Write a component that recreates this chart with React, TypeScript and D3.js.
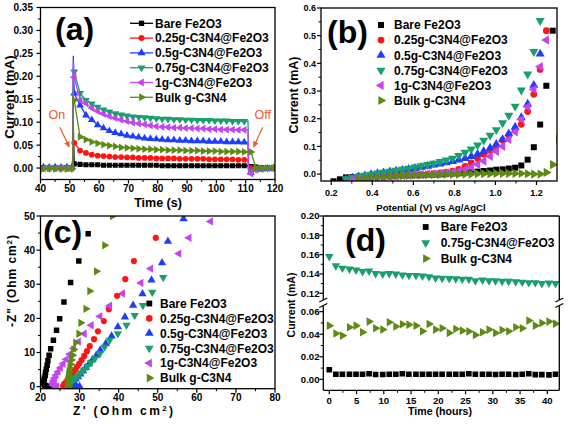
import React from "react";
import * as d3 from "d3";

const FONT = "'Liberation Sans', Arial, Helvetica, sans-serif";

type Shape = "square" | "circle" | "up" | "down" | "left" | "right";

const seriesNames = ["Bare Fe2O3", "0.25g-C3N4@Fe2O3", "0.5g-C3N4@Fe2O3", "0.75g-C3N4@Fe2O3", "1g-C3N4@Fe2O3", "Bulk g-C3N4"];
const seriesColors = ["#000000", "#ff1414", "#1f3dff", "#17a06c", "#c444f0", "#5c8a12"];
const seriesShapes: Shape[] = ["square", "circle", "up", "down", "left", "right"];

// ---------- Panel (a): transient photocurrent ----------
const timeA = [41, 43, 45, 47, 49, 50.7, 51.0, 51.2,
  51.5, 53.5, 55.5, 57.5, 59.5, 61.5, 63.5, 65.5, 67.5, 69.5, 71.5, 73.5, 75.5, 77.5, 79.5,
  81.5, 83.5, 85.5, 87.5, 89.5, 91.5, 93.5, 95.5, 97.5, 99.5, 101.5, 103.5, 105.5, 107.5, 109.5,
  110.8, 111.0, 111.8, 113.5, 115.5, 117.5, 119.5];
const noMarkTimeA = [51.0, 51.2, 110.8, 111.0];
const aBare = [0.001, 0, 0.001, 0, 0.001, 0, 0, 0.09,
  0.009, 0.008, 0.007, 0.007, 0.007, 0.006, 0.006, 0.006, 0.006, 0.006, 0.006, 0.006, 0.006, 0.006, 0.006,
  0.005, 0.005, 0.005, 0.005, 0.005, 0.005, 0.005, 0.005, 0.005, 0.005, 0.005, 0.005, 0.005, 0.005, 0.005,
  0.005, 0.0, 0.003, 0.002, 0.001, 0.001, 0.001];
const a025 = [0, 0.001, 0, 0.001, 0, 0.001, 0, 0.06,
  0.055, 0.038, 0.033, 0.029, 0.027, 0.026, 0.025, 0.024, 0.024, 0.023, 0.023, 0.022, 0.022, 0.022, 0.021,
  0.021, 0.021, 0.021, 0.02, 0.02, 0.02, 0.02, 0.02, 0.019, 0.019, 0.019, 0.019, 0.019, 0.018, 0.018,
  0.018, 0.0, 0.0, 0.0, -0.001, 0, 0];
const a05 = [0.002, 0.001, 0.002, 0.001, 0.002, 0.001, 0, 0.245,
  0.163, 0.137, 0.115, 0.105, 0.094, 0.087, 0.081, 0.077, 0.074, 0.071, 0.069, 0.067, 0.065, 0.064, 0.063,
  0.062, 0.061, 0.061, 0.06, 0.06, 0.059, 0.059, 0.059, 0.058, 0.058, 0.058, 0.057, 0.057, 0.057, 0.056,
  0.056, -0.012, -0.01, -0.003, -0.002, -0.001, 0];
const a075 = [0, -0.001, 0, -0.001, 0, -0.001, 0, 0.215,
  0.21, 0.163, 0.148, 0.14, 0.133, 0.127, 0.123, 0.119, 0.116, 0.114, 0.112, 0.111, 0.11, 0.109, 0.108,
  0.107, 0.107, 0.106, 0.106, 0.105, 0.105, 0.104, 0.104, 0.104, 0.103, 0.103, 0.103, 0.102, 0.102, 0.102,
  0.102, -0.008, -0.006, -0.002, -0.001, 0, 0];
const a1 = [-0.001, 0, -0.001, 0, -0.001, 0, 0, 0.23,
  0.198, 0.148, 0.141, 0.131, 0.124, 0.118, 0.113, 0.109, 0.105, 0.102, 0.099, 0.097, 0.095, 0.093, 0.091,
  0.09, 0.089, 0.088, 0.088, 0.087, 0.087, 0.086, 0.086, 0.085, 0.085, 0.084, 0.084, 0.084, 0.083, 0.083,
  0.083, -0.012, -0.012, -0.004, -0.002, -0.001, 0];
const aBulk = [-0.002, -0.001, -0.002, -0.001, -0.002, -0.001, 0, 0.15,
  0.148, 0.068, 0.062, 0.057, 0.054, 0.051, 0.049, 0.047, 0.045, 0.044, 0.043, 0.042, 0.041, 0.041, 0.04,
  0.04, 0.039, 0.039, 0.039, 0.038, 0.038, 0.038, 0.037, 0.037, 0.037, 0.036, 0.036, 0.036, 0.036, 0.035,
  0.035, 0.035, 0.035, 0.0, -0.001, 0, 0];
const aSeries = [aBare, a025, a05, a075, a1, aBulk];
const aXTicks = [40, 50, 60, 70, 80, 90, 100, 110, 120];
const aYTicks = [0, 0.05, 0.1, 0.15, 0.2, 0.25, 0.3, 0.35];

// ---------- Panel (b): LSV ----------
const vB = [0.211, 0.242, 0.272, 0.303, 0.333, 0.364, 0.394, 0.425, 0.455, 0.486, 0.516, 0.547, 0.577, 0.608,
  0.638, 0.669, 0.699, 0.73, 0.76, 0.791, 0.821, 0.852, 0.882, 0.913, 0.943, 0.974, 1.004, 1.035, 1.065,
  1.096, 1.126, 1.157, 1.187, 1.218, 1.248, 1.279, 1.309];
const bBare = [-0.026, -0.019, -0.012, -0.011, -0.009, -0.008, -0.008, -0.007, -0.007, -0.006, -0.006, -0.005,
  -0.005, -0.004, -0.004, -0.003, -0.002, -0.001, 0.0, 0.002, 0.003, 0.005, 0.007, 0.009, 0.011, 0.013, 0.016,
  0.017, 0.02, 0.023, 0.031, 0.052, 0.097, 0.179, 0.319, 0.518, null];
const b025 = [null, null, null, -0.02, -0.018, -0.016, -0.014, -0.012, -0.01, -0.008, -0.007, -0.005, -0.004,
  -0.002, -0.001, 0.0, 0.002, 0.004, 0.007, 0.011, 0.017, 0.028, 0.04, 0.056, 0.072, 0.086, 0.1, 0.122, 0.14,
  0.161, 0.18, 0.226, 0.288, 0.378, 0.518, null, null];
const b05 = [null, null, -0.018, -0.014, -0.01, -0.006, -0.002, 0.002, 0.005, 0.008, 0.011, 0.014, 0.017, 0.021,
  0.025, 0.029, 0.033, 0.037, 0.041, 0.046, 0.051, 0.057, 0.064, 0.072, 0.082, 0.094, 0.108, 0.125, 0.146, 0.17,
  0.204, 0.253, 0.321, 0.434, 0.61, null, null];
const b075 = [null, null, -0.017, -0.013, -0.009, -0.005, -0.001, 0.003, 0.006, 0.01, 0.013, 0.017, 0.021, 0.025,
  0.03, 0.034, 0.039, 0.045, 0.05, 0.057, 0.067, 0.078, 0.09, 0.105, 0.122, 0.14, 0.16, 0.185, 0.212, 0.245,
  0.303, 0.361, 0.442, 0.554, null, null, null];
const b1 = [null, null, null, -0.022, -0.02, -0.018, -0.016, -0.014, -0.012, -0.01, -0.008, -0.006, -0.005,
  -0.003, -0.002, 0.0, 0.001, 0.003, 0.005, 0.007, 0.01, 0.017, 0.025, 0.035, 0.047, 0.064, 0.082, 0.1, 0.125,
  0.152, 0.198, 0.243, 0.306, 0.388, 0.484, null, null];
const bBulk = [null, null, null, null, -0.018, -0.015, -0.013, -0.011, -0.01, -0.008, -0.007, -0.006, -0.005,
  -0.004, -0.003, -0.003, -0.002, -0.002, -0.001, -0.001, 0.0, 0.0, 0.0, 0.001, 0.001, 0.001, 0.002, 0.002,
  0.002, 0.002, 0.002, 0.001, 0.0, 0.0, 0.006, 0.034, 0.128];
const bSeries = [bBare, b025, b05, b075, b1, bBulk];
const bXTicks = [0.2, 0.4, 0.6, 0.8, 1.0, 1.2];
const bYTicks = [0, 0.1, 0.2, 0.3, 0.4, 0.5, 0.6];

// ---------- Panel (c): Nyquist [Z', -Z''] ----------
const cBare = [[32.2, 44.8], [29.8, 36.8], [27.7, 30.5], [26.0, 24.8], [24.9, 19.9], [24.1, 16.5], [23.3, 13.6],
  [22.6, 11.1], [22.2, 9.2], [21.9, 7.6], [21.7, 6.3], [21.5, 5.2], [21.3, 4.2], [21.2, 3.3], [21.0, 2.5],
  [20.9, 1.8], [20.8, 1.2], [20.9, 0.7], [21.1, 0.4], [21.5, 0.2], [22.0, 0.1], [22.5, 0.1], [23.0, 0.0],
  [23.5, 0.0], [24.0, 0.0]];
const c025 = [[49.5, 43.6], [43.9, 36.8], [41.7, 31.5], [39.6, 26.6], [37.5, 22.7], [36.2, 19.2], [34.7, 16.2],
  [33.7, 13.9], [32.6, 11.9], [31.9, 10.4], [31.2, 9.0], [30.5, 7.8], [29.9, 6.7], [29.3, 5.7], [28.8, 4.8],
  [28.3, 4.0], [27.8, 3.2], [27.3, 2.5], [26.9, 1.9], [26.5, 1.3], [26.1, 0.8], [25.9, 0.4], [25.8, 0.1]];
const c05 = [[56.6, 49.2], [52.6, 42.6], [51.1, 36.3], [48.4, 31.2], [46.1, 27.2], [43.7, 23.8], [41.6, 20.4],
  [39.8, 17.5], [38.2, 14.8], [36.7, 12.6], [35.3, 10.7], [34.3, 9.2], [33.3, 7.9], [32.4, 6.7], [31.6, 5.6],
  [30.9, 4.6], [30.2, 3.7], [29.6, 2.9], [29.0, 2.2], [28.5, 1.6], [28.1, 1.1], [28.0, 0.6], [28.5, 0.3],
  [29.2, 0.2], [30.0, 0.1]];
const c075 = [[51.4, 32.0], [48.6, 27.7], [46.2, 23.8], [44.1, 20.9], [42.0, 18.0], [39.8, 15.5], [37.7, 13.6],
  [36.4, 11.6], [35.2, 9.7], [33.9, 8.2], [32.9, 7.0], [32.0, 5.9], [31.1, 4.9], [30.3, 4.0], [29.6, 3.2],
  [28.9, 2.5], [28.3, 1.9], [27.8, 1.3], [27.4, 0.8], [27.2, 0.4], [27.2, 0.1]];
const c1 = [[63.5, 48.4], [58.0, 43.6], [55.4, 39.0], [48.2, 34.6], [45.7, 30.4], [41.0, 27.3], [37.7, 23.7],
  [35.2, 20.6], [33.0, 18.0], [31.2, 15.5], [29.7, 13.2], [28.5, 11.2], [27.5, 9.5], [26.6, 8.0], [25.8, 6.7],
  [25.1, 5.5], [24.5, 4.4], [24.0, 3.4], [23.6, 2.5], [23.3, 1.7], [23.1, 1.0], [23.2, 0.5], [23.6, 0.2], [24.2, 0.1]];
const cBulk = [[38.4, 50.0], [36.4, 41.4], [34.3, 33.8], [32.6, 28.0], [31.6, 22.8], [30.3, 18.7], [29.8, 15.5],
  [29.0, 12.9], [28.5, 10.9], [28.2, 9.2], [27.9, 7.8], [27.7, 6.6], [27.5, 5.5], [27.3, 4.5], [27.2, 3.6],
  [27.1, 2.8], [27.0, 2.1], [26.9, 1.5], [26.9, 1.0], [26.9, 0.5], [27.0, 0.2], [27.2, 0.1]];
const cSeries = [cBare, c025, c05, c075, c1, cBulk];
const cXTicks = [20, 30, 40, 50, 60, 70, 80];
const cYTicks = [0, 10, 20, 30, 40, 50];

// ---------- Panel (d): stability ----------
const tD = [0, 1.2, 2.4, 3.7, 4.9, 6.1, 7.3, 8.5, 9.8, 11.0, 12.2, 13.4, 14.6, 15.9, 17.1, 18.3, 19.5, 20.7,
  22.0, 23.2, 24.4, 25.6, 26.8, 28.1, 29.3, 30.5, 31.7, 32.9, 34.2, 35.4, 36.6, 37.8, 39.0, 40.3, 41.5];
const dBare = [0.0085, 0.0045, 0.0045, 0.0045, 0.0045, 0.0045, 0.005, 0.0043, 0.0043, 0.0045, 0.0045, 0.005,
  0.0045, 0.0045, 0.0045, 0.0045, 0.0045, 0.0045, 0.0045, 0.0045, 0.0045, 0.005, 0.0045, 0.0045, 0.0045,
  0.0043, 0.0045, 0.0045, 0.0043, 0.0045, 0.005, 0.0042, 0.0042, 0.004, 0.0045];
const d075 = [0.158, 0.1485, 0.146, 0.145, 0.144, 0.1425, 0.143, 0.1405, 0.14, 0.1405, 0.14, 0.139, 0.1385,
  0.1385, 0.1378, 0.137, 0.1358, 0.1355, 0.1353, 0.135, 0.1346, 0.1345, 0.133, 0.1338, 0.133, 0.133, 0.1325,
  0.1325, 0.1318, 0.1315, 0.131, 0.131, 0.13, 0.1305, 0.13];
const dBulk = [0.0476, 0.0406, 0.0388, 0.0462, 0.0476, 0.0418, 0.0512, 0.0453, 0.0441, 0.0506, 0.0468, 0.0488,
  0.0485, 0.0476, 0.0426, 0.0491, 0.0441, 0.0453, 0.0412, 0.0447, 0.0432, 0.0425, 0.0394, 0.0418, 0.0441,
  0.0412, 0.0438, 0.0426, 0.0462, 0.0453, 0.0521, 0.0476, 0.05, 0.0512, 0.0494];
const dNames = ["Bare Fe2O3", "0.75g-C3N4@Fe2O3", "Bulk g-C3N4"];
const dColors = [seriesColors[0], seriesColors[3], seriesColors[5]];
const dShapes: Shape[] = ["square", "down", "right"];
const dSeries = [dBare, d075, dBulk];
const dXTicks = [0, 5, 10, 15, 20, 25, 30, 35, 40];
const dYTicksUpper = [0.12, 0.14, 0.16, 0.18, 0.2];
const dYTicksLower = [0, 0.02, 0.04, 0.06];

// ---------- helpers ----------
const symType = (s: Shape) => (s === "square" ? d3.symbolSquare : s === "circle" ? d3.symbolCircle : d3.symbolTriangle);
const symRot: Record<Shape, number> = { square: 0, circle: 0, up: 0, down: 180, left: -90, right: 90 };
const markerPath = (s: Shape, size: number) => d3.symbol().type(symType(s)).size(size)() as string;
const mids = (a: number[]) => a.slice(1).map((v, i) => (v + a[i]) / 2);

function Marker({ x, y, shape, size, color }: { x: number; y: number; shape: Shape; size: number; color: string }) {
  return <path d={markerPath(shape, size)} transform={`translate(${x},${y}) rotate(${symRot[shape]})`} fill={color} />;
}

function XAxis({ scale, y, ticks, fmt, fs, labelY }: any) {
  return (
    <g>
      {mids(ticks).map((v: number, i: number) => (
        <line key={"m" + i} x1={scale(v)} x2={scale(v)} y1={y} y2={y + 2.5} stroke="#000" strokeWidth={1} />
      ))}
      {ticks.map((v: number, i: number) => (
        <g key={i}>
          <line x1={scale(v)} x2={scale(v)} y1={y} y2={y + 4} stroke="#000" strokeWidth={1.2} />
          <text x={scale(v)} y={labelY} textAnchor="middle" fontSize={fs} fontWeight="bold" fontFamily={FONT}>
            {fmt(v)}
          </text>
        </g>
      ))}
    </g>
  );
}

function YAxis({ scale, x, ticks, fmt, fs, labelX, minor = true }: any) {
  return (
    <g>
      {minor &&
        mids(ticks).map((v: number, i: number) => (
          <line key={"m" + i} x1={x - 2.5} x2={x} y1={scale(v)} y2={scale(v)} stroke="#000" strokeWidth={1} />
        ))}
      {ticks.map((v: number, i: number) => (
        <g key={i}>
          <line x1={x - 4} x2={x} y1={scale(v)} y2={scale(v)} stroke="#000" strokeWidth={1.2} />
          <text x={labelX} y={scale(v) + fs * 0.36} textAnchor="end" fontSize={fs} fontWeight="bold" fontFamily={FONT}>
            {fmt(v)}
          </text>
        </g>
      ))}
    </g>
  );
}

function Frame({ x0, x1, y0, y1 }: any) {
  return <rect x={x0} y={y0} width={x1 - x0} height={y1 - y0} fill="none" stroke="#000" strokeWidth={1.3} />;
}

function BigLabel({ x, y, text }: any) {
  return (
    <text x={x} y={y} fontSize={32} fontWeight="bold" fontFamily={FONT}>
      {text}
    </text>
  );
}

// ---------- Panels ----------
function PanelA() {
  const x = d3.scaleLinear([40, 120], [40.5, 275]);
  const y = d3.scaleLinear([-0.025, 0.35], [179.5, 7.5]);
  const line = d3.line<number>().x((_, i) => x(timeA[i])).y((d) => y(d));
  const orange = "#ea5a2e";
  return (
    <g>
      <defs>
        <clipPath id="clipA">
          <rect x={40.5} y={7.5} width={234.5} height={172} />
        </clipPath>
        <marker id="arrowO" viewBox="0 0 10 10" refX={9} refY={5} markerWidth={5} markerHeight={5} orient="auto">
          <path d="M0,0 L10,5 L0,10 z" fill={orange} />
        </marker>
      </defs>
      <g clipPath="url(#clipA)">
        {aSeries.map((s, si) => (
          <g key={si}>
            <path d={line(s) as string} fill="none" stroke={seriesColors[si]} strokeWidth={1.3} />
            {s.map((v, i) =>
              noMarkTimeA.includes(timeA[i]) ? null : (
                <Marker key={i} x={x(timeA[i])} y={y(v)} shape={seriesShapes[si]} size={26} color={seriesColors[si]} />
              )
            )}
          </g>
        ))}
      </g>
      <Frame x0={40.5} x1={275} y0={7.5} y1={179.5} />
      <XAxis scale={x} y={179.5} ticks={aXTicks} fmt={d3.format("d")} fs={10} labelY={192} />
      <YAxis scale={y} x={40.5} ticks={aYTicks} fmt={d3.format(".2f")} fs={10} labelX={33} />
      <text x={158} y={207} textAnchor="middle" fontSize={12.5} fontWeight="bold" fontFamily={FONT}>
        Time (s)
      </text>
      <text transform="translate(13.5,97) rotate(-90)" textAnchor="middle" fontSize={13.5} fontWeight="bold" fontFamily={FONT}>
        Current (mA)
      </text>
      <BigLabel x={55} y={40} text="(a)" />
      {seriesNames.map((n, i) => {
        const cy = 23.3 + 14.8 * i;
        return (
          <g key={i}>
            <line x1={130} x2={153} y1={cy} y2={cy} stroke={seriesColors[i]} strokeWidth={1.3} />
            <Marker x={141.5} y={cy} shape={seriesShapes[i]} size={28} color={seriesColors[i]} />
            <text x={155} y={cy + 4.3} fontSize={12} fontWeight="bold" fontFamily={FONT}>
              {n}
            </text>
          </g>
        );
      })}
      <text x={x(45.6)} y={y(0.115) + 4} textAnchor="middle" fontSize={12.5} fill={orange} fontFamily={FONT}>
        On
      </text>
      <line x1={x(46.6)} y1={y(0.089)} x2={x(49.8)} y2={y(0.046)} stroke={orange} strokeWidth={1.2} markerEnd="url(#arrowO)" />
      <text x={x(115.8)} y={y(0.115) + 4} textAnchor="middle" fontSize={12.5} fill={orange} fontFamily={FONT}>
        Off
      </text>
      <line x1={x(115.8)} y1={y(0.089)} x2={x(112.7)} y2={y(0.046)} stroke={orange} strokeWidth={1.2} markerEnd="url(#arrowO)" />
    </g>
  );
}

function PanelB() {
  const x = d3.scaleLinear([0.15, 1.3], [321, 557]);
  const y = d3.scaleLinear([-0.025, 0.6], [181, 8]);
  return (
    <g>
      <defs>
        <clipPath id="clipB">
          <rect x={321} y={8} width={236} height={173} />
        </clipPath>
      </defs>
      <g clipPath="url(#clipB)">
        {bSeries.map((s, si) => (
          <g key={si}>
            {s.map((v, i) =>
              v === null ? null : (
                <Marker key={i} x={x(vB[i])} y={y(v)} shape={seriesShapes[si]} size={36} color={seriesColors[si]} />
              )
            )}
          </g>
        ))}
      </g>
      <Frame x0={321} x1={557} y0={8} y1={181} />
      <XAxis scale={x} y={181} ticks={bXTicks} fmt={d3.format(".1f")} fs={9} labelY={195.5} />
      <YAxis scale={y} x={321} ticks={bYTicks} fmt={d3.format(".1f")} fs={9} labelX={316} />
      <text x={431} y={210.5} textAnchor="middle" fontSize={9.6} fontWeight="bold" fontFamily={FONT}>
        Potential (V) vs Ag/AgCl
      </text>
      <text transform="translate(298,95) rotate(-90)" textAnchor="middle" fontSize={12.5} fontWeight="bold" fontFamily={FONT}>
        Current (mA)
      </text>
      <BigLabel x={327} y={43} text="(b)" />
      {seriesNames.map((n, i) => {
        const cy = 25 + 15.1 * i;
        return (
          <g key={i}>
            <Marker x={381} y={cy} shape={seriesShapes[i]} size={36} color={seriesColors[i]} />
            <text x={394} y={cy + 4.3} fontSize={12} fontWeight="bold" fontFamily={FONT}>
              {n}
            </text>
          </g>
        );
      })}
    </g>
  );
}

function PanelC() {
  const x = d3.scaleLinear([20, 80], [40.5, 275]);
  const y = d3.scaleLinear([-0.6, 50], [388.7, 216]);
  return (
    <g>
      <defs>
        <clipPath id="clipC">
          <rect x={40.5} y={216} width={234.5} height={172.7} />
        </clipPath>
      </defs>
      <g clipPath="url(#clipC)">
        {cSeries.map((s, si) => (
          <g key={si}>
            {s.map((p, i) => (
              <Marker key={i} x={x(p[0])} y={y(p[1])} shape={seriesShapes[si]} size={30} color={seriesColors[si]} />
            ))}
          </g>
        ))}
      </g>
      <Frame x0={40.5} x1={275} y0={216} y1={388.7} />
      <XAxis scale={x} y={388.7} ticks={cXTicks} fmt={d3.format("d")} fs={10} labelY={400.5} />
      <YAxis scale={y} x={40.5} ticks={cYTicks} fmt={d3.format("d")} fs={10} labelX={35} />
      <text x={123} y={415} textAnchor="middle" fontSize={12} fontWeight="bold" fontFamily={FONT} textLength={100} lengthAdjust="spacing">
        Z' (Ohm cm<tspan dy={-4} fontSize={8}>2</tspan><tspan dy={4}>)</tspan>
      </text>
      <text transform="translate(16,281) rotate(-90)" textAnchor="middle" fontSize={12} fontWeight="bold" fontFamily={FONT} textLength={92} lengthAdjust="spacing">
        -Z" (Ohm cm<tspan dy={-4} fontSize={8}>2</tspan><tspan dy={4}>)</tspan>
      </text>
      <BigLabel x={43} y={243} text="(c)" />
      {seriesNames.map((n, i) => {
        const cy = 303.5 + 14.9 * i;
        return (
          <g key={i}>
            <Marker x={149.3} y={cy} shape={seriesShapes[i]} size={34} color={seriesColors[i]} />
            <text x={160} y={cy + 4.3} fontSize={12} fontWeight="bold" fontFamily={FONT}>
              {n}
            </text>
          </g>
        );
      })}
    </g>
  );
}

function PanelD() {
  const x = d3.scaleLinear([-1.1, 42.2], [323.3, 559.3]);
  const yU = d3.scaleLinear([0.113, 0.2], [300, 216]);
  const yL = d3.scaleLinear([-0.0097, 0.0653], [390.3, 305.7]);
  const yy = (v: number) => (v >= 0.09 ? yU(v) : yL(v));
  const x0 = 323.3, x1 = 559.3;
  const brk = (cx: number) => (
    <g>
      <line x1={cx - 4} y1={302} x2={cx + 4} y2={298} stroke="#000" strokeWidth={1.2} />
      <line x1={cx - 4} y1={307.5} x2={cx + 4} y2={303.5} stroke="#000" strokeWidth={1.2} />
    </g>
  );
  return (
    <g>
      <defs>
        <clipPath id="clipD">
          <rect x={x0} y={216} width={x1 - x0} height={174.3} />
        </clipPath>
      </defs>
      <g clipPath="url(#clipD)">
        {dSeries.map((s, si) => (
          <g key={si}>
            {s.map((v, i) => (
              <Marker key={i} x={x(tD[i])} y={yy(v)} shape={dShapes[si]} size={32} color={dColors[si]} />
            ))}
          </g>
        ))}
      </g>
      <g stroke="#000" strokeWidth={1.3}>
        <line x1={x0} x2={x1} y1={216} y2={216} />
        <line x1={x0} x2={x1} y1={390.3} y2={390.3} />
        <line x1={x0} x2={x0} y1={216} y2={300} />
        <line x1={x0} x2={x0} y1={305.7} y2={390.3} />
        <line x1={x1} x2={x1} y1={216} y2={300} />
        <line x1={x1} x2={x1} y1={305.7} y2={390.3} />
      </g>
      {brk(x0)}
      {brk(x1)}
      <XAxis scale={x} y={390.3} ticks={dXTicks} fmt={d3.format("d")} fs={9.6} labelY={404} />
      <YAxis scale={yU} x={x0} ticks={dYTicksUpper} fmt={d3.format(".2f")} fs={9.6} labelX={319.5} />
      <YAxis scale={yL} x={x0} ticks={dYTicksLower} fmt={d3.format(".2f")} fs={9.6} labelX={319.5} />
      <text x={440} y={415} textAnchor="middle" fontSize={10.6} fontWeight="bold" fontFamily={FONT}>
        Time (hours)
      </text>
      <text transform="translate(295,305) rotate(-90)" textAnchor="middle" fontSize={10.5} fontWeight="bold" fontFamily={FONT}>
        Current (mA)
      </text>
      <BigLabel x={345} y={251} text="(d)" />
      {dNames.map((n, i) => {
        const cy = 227 + 15.8 * i;
        return (
          <g key={i}>
            <Marker x={425.7} y={cy} shape={dShapes[i]} size={34} color={dColors[i]} />
            <text x={440.7} y={cy + 4.3} fontSize={12} fontWeight="bold" fontFamily={FONT}>
              {n}
            </text>
          </g>
        );
      })}
    </g>
  );
}

export default function App() {
  return (
    <div>
      <style>{`html,body{margin:0;padding:0;background:#fff;}`}</style>
      <svg width={568} height={424} viewBox="0 0 568 424" style={{ display: "block" }}>
        <rect width={568} height={424} fill="#fff" />
        <PanelA />
        <PanelB />
        <PanelC />
        <PanelD />
      </svg>
    </div>
  );
}
